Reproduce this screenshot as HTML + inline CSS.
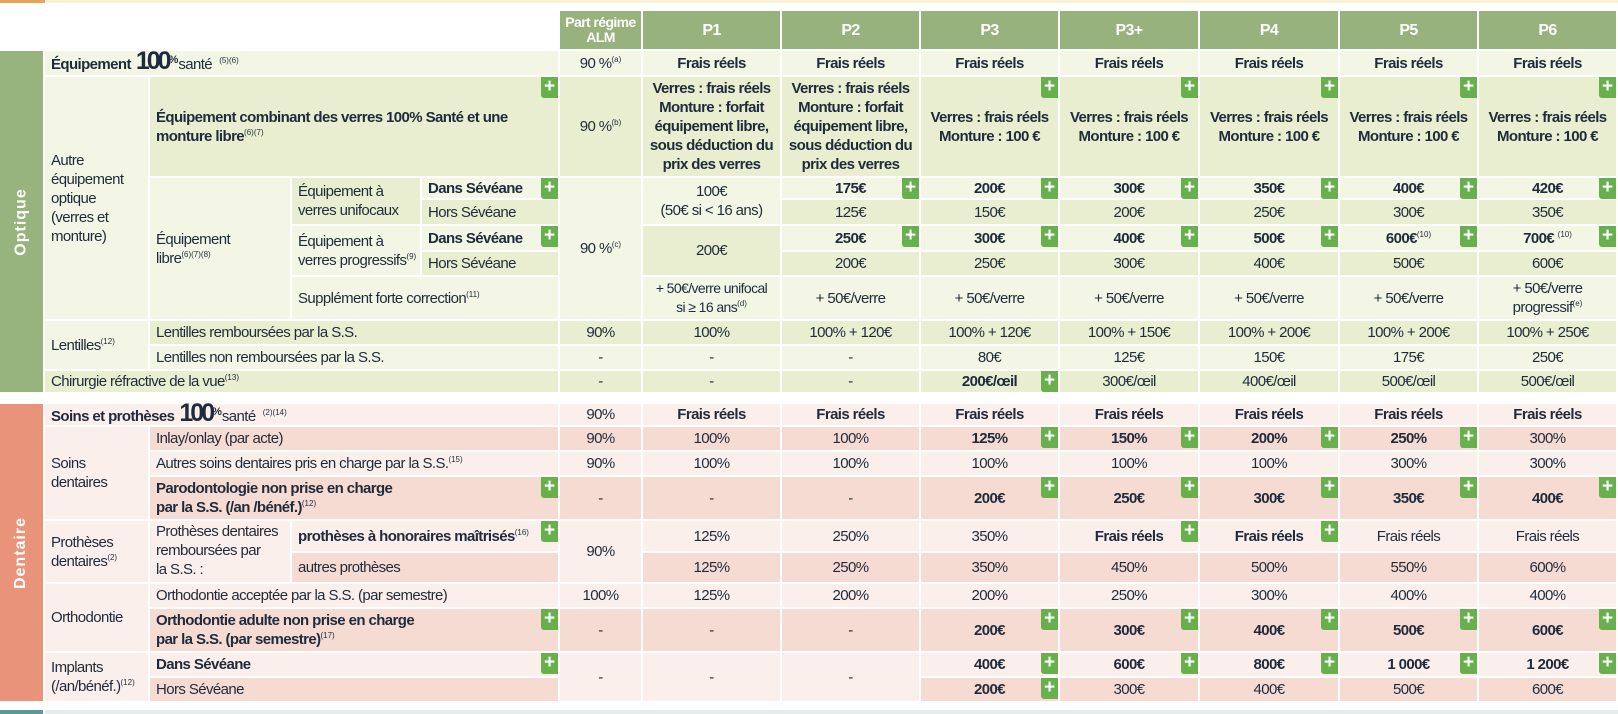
<!DOCTYPE html>
<html><head><meta charset="utf-8"><style>
body{margin:0;width:1618px;height:714px;background:#fff;position:relative;overflow:hidden;font-family:"Liberation Sans Narrow","Liberation Sans",sans-serif;color:#1f2b3c}
.c{position:absolute;display:flex;align-items:center;justify-content:center;text-align:center;box-sizing:border-box;border-right:2px solid #fff;border-bottom:2px solid #fff;font-size:15px;line-height:19px;letter-spacing:-0.6px;white-space:nowrap}
.c>span{display:block}
.l{justify-content:flex-start;text-align:left;padding-left:6px}
.b{font-weight:bold}
.L{background:#f3f6e4}.D{background:#e8eecf}
.PL{background:#fbefeb}.PD{background:#f6dbd2}
.H{background:#97b27c;color:#fff;font-weight:bold;font-size:16px}
sup{font-size:8px;line-height:0;vertical-align:6px;font-weight:normal;letter-spacing:0}
.p{position:absolute;right:0;top:0;width:17px;height:21px;background:#68b04e;border-radius:0 0 0 3px;color:#fff;font:bold 19px/20px "Liberation Sans",sans-serif;text-align:center;font-style:normal;letter-spacing:0}
.B{left:45px;width:105px}.C{left:150px;width:142px}.D_{left:292px;width:130px}.E{left:422px;width:138px}
.CE{left:150px;width:410px}.DE{left:292px;width:268px}.BE{left:45px;width:515px}
.a{left:560px;width:83px}.p1{left:643px;width:139px}.p2{left:782px;width:139px}.p3{left:921px;width:139px}.p4{left:1060px;width:140px}.p5{left:1200px;width:140px}.p6{left:1340px;width:139px}.p7{left:1479px;width:139px}
.r0{top:11px;height:40px}.r1{top:51px;height:26px}.r2{top:77px;height:101px}.r3{top:178px;height:22px}.r4{top:200px;height:26px}.r5{top:226px;height:26px}.r6{top:252px;height:25px}.r7{top:277px;height:44px}.r8{top:321px;height:25px}.r9{top:346px;height:25px}.r10{top:371px;height:23px}
.d1{top:404px;height:23px}.d2{top:427px;height:25px}.d3{top:452px;height:25px}.d4{top:477px;height:44px}.d5{top:521px;height:32px}.d6{top:553px;height:31px}.d7{top:584px;height:25px}.d8{top:609px;height:44px}.d9{top:653px;height:25px}.d10{top:678px;height:25px}
.r34{top:178px;height:48px}.r56{top:226px;height:51px}.r37{top:178px;height:143px}.r27{top:77px;height:244px}.r89{top:321px;height:50px}
.d24{top:427px;height:94px}.d56{top:521px;height:63px}.d78{top:584px;height:69px}.d910{top:653px;height:50px}
.logo{font-weight:bold;font-size:25px;letter-spacing:-3px;margin-left:5px}
.side{position:absolute;left:0;width:43px;color:#fff;font-weight:bold;font-family:"Liberation Sans",sans-serif;font-size:16px;display:flex;align-items:center;justify-content:center}
.side span{transform:rotate(-90deg);white-space:nowrap;letter-spacing:1px}
</style></head><body>
<div style="position:absolute;left:0;top:0;width:1618px;height:3px;background:#fbf2d6"></div>
<div style="position:absolute;left:0;top:0;width:45px;height:3px;background:#e8a25a"></div>

<div class="c H a r0" style="font-size:14px;line-height:15px"><span>Part régime<br>ALM</span></div>
<div class="c H p1 r0"><span>P1</span></div><div class="c H p2 r0"><span>P2</span></div><div class="c H p3 r0"><span>P3</span></div><div class="c H p4 r0"><span>P3+</span></div><div class="c H p5 r0"><span>P4</span></div><div class="c H p6 r0"><span>P5</span></div><div class="c H p7 r0"><span>P6</span></div>

<div class="side" style="top:51px;height:341px;background:#97b47e"><span>Optique</span></div>
<div class="c L l BE r1"><span><b>Équipement</b><span class="logo">100</span><sup style="font-size:11px;font-weight:bold">%</sup>santé&nbsp;&nbsp;<sup>(5)(6)</sup></span></div>
<div class="c L a r1"><span>90 %<sup>(a)</sup></span></div>
<div class="c L b p1 r1"><span>Frais réels</span></div><div class="c L b p2 r1"><span>Frais réels</span></div><div class="c L b p3 r1"><span>Frais réels</span></div><div class="c L b p4 r1"><span>Frais réels</span></div><div class="c L b p5 r1"><span>Frais réels</span></div><div class="c L b p6 r1"><span>Frais réels</span></div><div class="c L b p7 r1"><span>Frais réels</span></div>

<div class="c L l B r27"><span>Autre<br>équipement<br>optique<br>(verres et<br>monture)</span></div>
<div class="c D l b CE r2"><span>Équipement combinant des verres 100% Santé et une<br>monture libre<sup>(6)(7)</sup></span><i class="p">+</i></div>
<div class="c D a r2"><span>90 %<sup>(b)</sup></span></div>
<div class="c D b p1 r2"><span>Verres : frais réels<br>Monture : forfait<br>équipement libre,<br>sous déduction du<br>prix des verres</span></div>
<div class="c D b p2 r2"><span>Verres : frais réels<br>Monture : forfait<br>équipement libre,<br>sous déduction du<br>prix des verres</span></div>
<div class="c D b p3 r2"><span>Verres : frais réels<br>Monture : 100 €</span><i class="p">+</i></div>
<div class="c D b p4 r2"><span>Verres : frais réels<br>Monture : 100 €</span><i class="p">+</i></div>
<div class="c D b p5 r2"><span>Verres : frais réels<br>Monture : 100 €</span><i class="p">+</i></div>
<div class="c D b p6 r2"><span>Verres : frais réels<br>Monture : 100 €</span><i class="p">+</i></div>
<div class="c D b p7 r2"><span>Verres : frais réels<br>Monture : 100 €</span><i class="p">+</i></div>

<div class="c L l C r37"><span>Équipement<br>libre<sup>(6)(7)(8)</sup></span></div>
<div class="c D l D_ r34"><span>Équipement à<br>verres unifocaux</span></div>
<div class="c L l D_ r56"><span>Équipement à<br>verres progressifs<sup>(9)</sup></span></div>
<div class="c L l b E r3"><span>Dans Sévéane</span><i class="p">+</i></div>
<div class="c D l E r4"><span>Hors Sévéane</span></div>
<div class="c L l b E r5"><span>Dans Sévéane</span><i class="p">+</i></div>
<div class="c D l E r6"><span>Hors Sévéane</span></div>
<div class="c L l DE r7"><span>Supplément forte correction<sup>(11)</sup></span></div>
<div class="c L a r37"><span>90 %<sup>(c)</sup></span></div>
<div class="c L p1 r34"><span>100€<br>(50€ si &lt; 16 ans)</span></div>
<div class="c D p1 r56"><span>200€</span></div>
<div class="c L p1 r7" style="font-size:14px"><span>+ 50€/verre unifocal<br>si ≥ 16 ans<sup>(d)</sup></span></div>

<div class="c L b p2 r3"><span>175€</span><i class="p">+</i></div><div class="c L b p3 r3"><span>200€</span><i class="p">+</i></div><div class="c L b p4 r3"><span>300€</span><i class="p">+</i></div><div class="c L b p5 r3"><span>350€</span><i class="p">+</i></div><div class="c L b p6 r3"><span>400€</span><i class="p">+</i></div><div class="c L b p7 r3"><span>420€</span><i class="p">+</i></div>
<div class="c D p2 r4"><span>125€</span></div><div class="c D p3 r4"><span>150€</span></div><div class="c D p4 r4"><span>200€</span></div><div class="c D p5 r4"><span>250€</span></div><div class="c D p6 r4"><span>300€</span></div><div class="c D p7 r4"><span>350€</span></div>
<div class="c L b p2 r5"><span>250€</span><i class="p">+</i></div><div class="c L b p3 r5"><span>300€</span><i class="p">+</i></div><div class="c L b p4 r5"><span>400€</span><i class="p">+</i></div><div class="c L b p5 r5"><span>500€</span><i class="p">+</i></div><div class="c L b p6 r5"><span>600€<sup>(10)</sup></span><i class="p">+</i></div><div class="c L b p7 r5"><span>700€ <sup>(10)</sup></span><i class="p">+</i></div>
<div class="c D p2 r6"><span>200€</span></div><div class="c D p3 r6"><span>250€</span></div><div class="c D p4 r6"><span>300€</span></div><div class="c D p5 r6"><span>400€</span></div><div class="c D p6 r6"><span>500€</span></div><div class="c D p7 r6"><span>600€</span></div>
<div class="c L p2 r7"><span>+ 50€/verre</span></div><div class="c L p3 r7"><span>+ 50€/verre</span></div><div class="c L p4 r7"><span>+ 50€/verre</span></div><div class="c L p5 r7"><span>+ 50€/verre</span></div><div class="c L p6 r7"><span>+ 50€/verre</span></div><div class="c L p7 r7"><span>+ 50€/verre<br>progressif<sup>(e)</sup></span></div>

<div class="c L l B r89"><span>Lentilles<sup>(12)</sup></span></div>
<div class="c D l CE r8"><span>Lentilles remboursées par la S.S.</span></div>
<div class="c D a r8"><span>90%</span></div><div class="c D p1 r8"><span>100%</span></div><div class="c D p2 r8"><span>100% + 120€</span></div><div class="c D p3 r8"><span>100% + 120€</span></div><div class="c D p4 r8"><span>100% + 150€</span></div><div class="c D p5 r8"><span>100% + 200€</span></div><div class="c D p6 r8"><span>100% + 200€</span></div><div class="c D p7 r8"><span>100% + 250€</span></div>
<div class="c L l CE r9"><span>Lentilles non remboursées par la S.S.</span></div>
<div class="c L a r9"><span>-</span></div><div class="c L p1 r9"><span>-</span></div><div class="c L p2 r9"><span>-</span></div><div class="c L p3 r9"><span>80€</span></div><div class="c L p4 r9"><span>125€</span></div><div class="c L p5 r9"><span>150€</span></div><div class="c L p6 r9"><span>175€</span></div><div class="c L p7 r9"><span>250€</span></div>
<div class="c D l BE r10"><span>Chirurgie réfractive de la vue<sup>(13)</sup></span></div>
<div class="c D a r10"><span>-</span></div><div class="c D p1 r10"><span>-</span></div><div class="c D p2 r10"><span>-</span></div><div class="c D b p3 r10"><span>200€/œil</span><i class="p">+</i></div><div class="c D p4 r10"><span>300€/œil</span></div><div class="c D p5 r10"><span>400€/œil</span></div><div class="c D p6 r10"><span>500€/œil</span></div><div class="c D p7 r10"><span>500€/œil</span></div>

<div class="side" style="top:404px;height:297px;background:#e8937a"><span>Dentaire</span></div>
<div class="c PL l BE d1"><span><b>Soins et prothèses</b><span class="logo">100</span><sup style="font-size:11px;font-weight:bold">%</sup>santé&nbsp;&nbsp;<sup>(2)(14)</sup></span></div>
<div class="c PL a d1"><span>90%</span></div>
<div class="c PL b p1 d1"><span>Frais réels</span></div><div class="c PL b p2 d1"><span>Frais réels</span></div><div class="c PL b p3 d1"><span>Frais réels</span></div><div class="c PL b p4 d1"><span>Frais réels</span></div><div class="c PL b p5 d1"><span>Frais réels</span></div><div class="c PL b p6 d1"><span>Frais réels</span></div><div class="c PL b p7 d1"><span>Frais réels</span></div>

<div class="c PL l B d24"><span>Soins<br>dentaires</span></div>
<div class="c PD l CE d2"><span>Inlay/onlay (par acte)</span></div>
<div class="c PD a d2"><span>90%</span></div><div class="c PD p1 d2"><span>100%</span></div><div class="c PD p2 d2"><span>100%</span></div><div class="c PD b p3 d2"><span>125%</span><i class="p">+</i></div><div class="c PD b p4 d2"><span>150%</span><i class="p">+</i></div><div class="c PD b p5 d2"><span>200%</span><i class="p">+</i></div><div class="c PD b p6 d2"><span>250%</span><i class="p">+</i></div><div class="c PD p7 d2"><span>300%</span></div>
<div class="c PL l CE d3"><span>Autres soins dentaires pris en charge par la S.S.<sup>(15)</sup></span></div>
<div class="c PL a d3"><span>90%</span></div><div class="c PL p1 d3"><span>100%</span></div><div class="c PL p2 d3"><span>100%</span></div><div class="c PL p3 d3"><span>100%</span></div><div class="c PL p4 d3"><span>100%</span></div><div class="c PL p5 d3"><span>100%</span></div><div class="c PL p6 d3"><span>300%</span></div><div class="c PL p7 d3"><span>300%</span></div>
<div class="c PD l b CE d4"><span>Parodontologie non prise en charge<br>par la S.S. (/an /bénéf.)<sup>(12)</sup></span><i class="p">+</i></div>
<div class="c PD a d4"><span>-</span></div><div class="c PD p1 d4"><span>-</span></div><div class="c PD p2 d4"><span>-</span></div><div class="c PD b p3 d4"><span>200€</span><i class="p">+</i></div><div class="c PD b p4 d4"><span>250€</span><i class="p">+</i></div><div class="c PD b p5 d4"><span>300€</span><i class="p">+</i></div><div class="c PD b p6 d4"><span>350€</span><i class="p">+</i></div><div class="c PD b p7 d4"><span>400€</span><i class="p">+</i></div>

<div class="c PL l B d56"><span>Prothèses<br>dentaires<sup>(2)</sup></span></div>
<div class="c PL l C d56" style="align-items:flex-start;padding-top:1px"><span>Prothèses dentaires<br>remboursées par<br>la S.S. :</span></div>
<div class="c PL l b DE d5"><span>prothèses à honoraires maîtrisés<sup>(16)</sup></span><i class="p">+</i></div>
<div class="c PD l DE d6"><span>autres prothèses</span></div>
<div class="c PL a d56"><span>90%</span></div>
<div class="c PL p1 d5"><span>125%</span></div><div class="c PL p2 d5"><span>250%</span></div><div class="c PL p3 d5"><span>350%</span></div><div class="c PL b p4 d5"><span>Frais réels</span><i class="p">+</i></div><div class="c PL b p5 d5"><span>Frais réels</span><i class="p">+</i></div><div class="c PL p6 d5"><span>Frais réels</span></div><div class="c PL p7 d5"><span>Frais réels</span></div>
<div class="c PD p1 d6"><span>125%</span></div><div class="c PD p2 d6"><span>250%</span></div><div class="c PD p3 d6"><span>350%</span></div><div class="c PD p4 d6"><span>450%</span></div><div class="c PD p5 d6"><span>500%</span></div><div class="c PD p6 d6"><span>550%</span></div><div class="c PD p7 d6"><span>600%</span></div>

<div class="c PL l B d78"><span>Orthodontie</span></div>
<div class="c PL l CE d7"><span>Orthodontie acceptée par la S.S. (par semestre)</span></div>
<div class="c PL a d7"><span>100%</span></div><div class="c PL p1 d7"><span>125%</span></div><div class="c PL p2 d7"><span>200%</span></div><div class="c PL p3 d7"><span>200%</span></div><div class="c PL p4 d7"><span>250%</span></div><div class="c PL p5 d7"><span>300%</span></div><div class="c PL p6 d7"><span>400%</span></div><div class="c PL p7 d7"><span>400%</span></div>
<div class="c PD l b CE d8"><span>Orthodontie adulte non prise en charge<br>par la S.S. (par semestre)<sup>(17)</sup></span><i class="p">+</i></div>
<div class="c PD a d8"><span>-</span></div><div class="c PD p1 d8"><span>-</span></div><div class="c PD p2 d8"><span>-</span></div><div class="c PD b p3 d8"><span>200€</span><i class="p">+</i></div><div class="c PD b p4 d8"><span>300€</span><i class="p">+</i></div><div class="c PD b p5 d8"><span>400€</span><i class="p">+</i></div><div class="c PD b p6 d8"><span>500€</span><i class="p">+</i></div><div class="c PD b p7 d8"><span>600€</span><i class="p">+</i></div>

<div class="c PL l B d910"><span>Implants<br>(/an/bénéf.)<sup>(12)</sup></span></div>
<div class="c PL l b CE d9"><span>Dans Sévéane</span><i class="p">+</i></div>
<div class="c PD l CE d10"><span>Hors Sévéane</span></div>
<div class="c PL a d910"><span>-</span></div><div class="c PL p1 d910"><span>-</span></div><div class="c PL p2 d910"><span>-</span></div>
<div class="c PL b p3 d9"><span>400€</span><i class="p">+</i></div><div class="c PL b p4 d9"><span>600€</span><i class="p">+</i></div><div class="c PL b p5 d9"><span>800€</span><i class="p">+</i></div><div class="c PL b p6 d9"><span>1 000€</span><i class="p">+</i></div><div class="c PL b p7 d9"><span>1 200€</span><i class="p">+</i></div>
<div class="c PD b p3 d10"><span>200€</span><i class="p">+</i></div><div class="c PD p4 d10"><span>300€</span></div><div class="c PD p5 d10"><span>400€</span></div><div class="c PD p6 d10"><span>500€</span></div><div class="c PD p7 d10"><span>600€</span></div>

<div style="position:absolute;left:0;top:710px;width:43px;height:4px;background:#5b9a94"></div>
<div style="position:absolute;left:45px;top:710px;width:1573px;height:4px;background:#e2eeeb"></div>
</body></html>
